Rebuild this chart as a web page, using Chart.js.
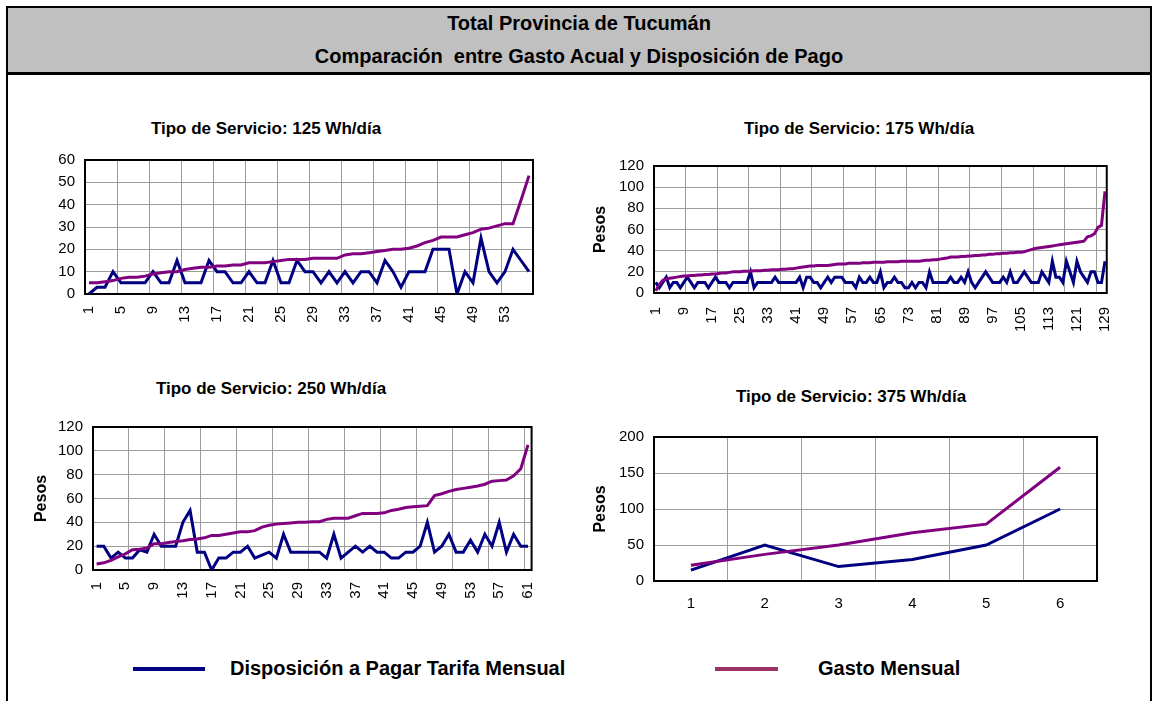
<!DOCTYPE html>
<html>
<head>
<meta charset="utf-8">
<title>Total Provincia de Tucumán</title>
<script src="https://cdn.jsdelivr.net/npm/chart.js@4.4.0/dist/chart.umd.min.js"></script>
<style>
  body { margin: 0; background: #fff; font-family: "Liberation Sans", Arial, sans-serif; }
  #page { position: relative; width: 1157px; height: 701px; overflow: hidden; background: #fff; }
  .frame { position: absolute; left: 6px; top: 6px; width: 1142px; height: 720px; border: 2px solid #000; }
  .header { position: absolute; left: 8px; top: 8px; width: 1142px; height: 64px; background: #c0c0c0; border-bottom: 3px solid #000; }
  .htext { position: absolute; left: 0; width: 100%; text-align: center; font-weight: bold; font-size: 20px; color: #000; }
  .ctitle { position: absolute; width: 400px; text-align: center; font-weight: bold; font-size: 17px; color: #000; }
  canvas { position: absolute; }
  .lgline { position: absolute; height: 4px; }
  .lgtext { position: absolute; font-weight: bold; font-size: 20px; color: #000; }
</style>
</head>
<body>
<div id="page">
  <div class="frame"></div>
  <div class="header">
    <div class="htext" style="top:4px">Total Provincia de Tucumán</div>
    <div class="htext" style="top:37px">Comparación&nbsp; entre Gasto Acual y Disposición de Pago</div>
  </div>

  <div class="ctitle" style="left:66px; top:119px">Tipo de Servicio: 125 Wh/día</div>
  <div class="ctitle" style="left:659px; top:119px">Tipo de Servicio: 175 Wh/día</div>
  <div class="ctitle" style="left:71px; top:379px">Tipo de Servicio: 250 Wh/día</div>
  <div class="ctitle" style="left:651px; top:387px">Tipo de Servicio: 375 Wh/día</div>

  <canvas id="c125" width="519" height="199" style="left:40px; top:141px"></canvas>
  <canvas id="c175" width="552" height="193" style="left:585px; top:147px"></canvas>
  <canvas id="c250" width="528" height="202" style="left:30px; top:408px"></canvas>
  <canvas id="c375" width="530" height="202" style="left:585px; top:418px"></canvas>

  <div class="lgline" style="left:133px; top:667px; width:72px; background:#000080"></div>
  <div class="lgtext" style="left:230px; top:657px">Disposición a Pagar Tarifa Mensual</div>
  <div class="lgline" style="left:715px; top:667px; width:63px; background:#993366"></div>
  <div class="lgtext" style="left:818px; top:657px">Gasto Mensual</div>
</div>

<script>
// series names
var nameDisp = 'Disposición a Pagar Tarifa Mensual';
var nameGasto = 'Gasto Mensual';

// 125 Wh/dia
var disp125 = [0,3,3,10,5,5,5,5,10,5, 5,15,5,5,5,15,10,10,5,5, 10,5,5,15,5,5,15,10,10,5,
               10,5,10,5,10,10,5,15,10,3, 10,10,10,20,20,20,0,10,5,25, 10,5,10,20,15,10];
var gasto125 = [5,5,5.5,6,7,7.5,7.5,8,9,9.5, 10,10,11,11.5,12,12,12.5,12.5,13,13,
                14,14,14,14.5,15,15.5,15.5,15.5,16,16, 16,16,17.5,18,18,18.5,19,19.5,20,20,
                20.5,21.5,23,24,25.5,25.5,25.5,26.5,27.5,29, 29.5,30.5,31.5,31.5,42,53];

// 175 Wh/dia
var disp175 = [10,5,10,15,5,10,10,5,10,15, 10,5,10,10,10,5,10,15,10,10,
               10,5,10,10,10,10,10,20,5,10, 10,10,10,10,15,10,10,10,10,10,
               10,15,5,15,15,10,10,5,10,15, 10,15,15,15,10,10,10,5,15,10,
               10,15,10,10,20,5,10,10,15,10, 10,5,5,10,5,10,10,5,20,10,
               10,10,10,10,15,10,10,15,10,20, 10,5,10,15,20,15,10,10,10,15,
               10,20,10,10,15,20,15,10,10,10, 20,15,10,30,15,15,10,30,20,10,
               30,20,15,10,20,20,10,10,30];
var gasto175 = [2,8,12,13,14,14.5,15,15.5,16,16, 16.5,16.5,17,17,17.5,17.5,18,18,18.5,19,
                19,19.5,20,20,20,20.5,20.5,20.5,21,21, 21,21.5,21.5,22,22,22,22.5,22.5,23,23,
                23.5,24,24.5,25,25.5,25.5,26,26,26,26, 26.5,27,27.5,27.5,27.5,28,28,28,28,28.5,
                28.5,28.5,29,29,29,29,29.5,29.5,29.5,29.5, 30,30,30,30,30,30,30.5,31,31,31.5,
                31.5,32,32.5,33,34,34,34,34.5,34.5,35, 35,35.5,35.5,36,36,36.5,36.5,37,37,37.5,
                37.5,38,38,38.5,38.5,39,40,41,42,42.5, 43,43.5,44,44.5,45,45.5,46,46.5,47,47.5,
                48,48.5,49,53,54,56,62,64,96];

// 250 Wh/dia
var disp250 = [20,20,10,15,10,10,17,15,30,20, 20,20,40,50,15,15,0,10,10,15,
               15,20,10,12.5,15,10,30,15,15,15, 15,15,10,30,10,15,20,15,20,15,
               15,10,10,15,15,20,40,15,20,30, 15,15,25,15,30,20,40,15,30,20, 20];
var gasto250 = [5,6,8,11,13.5,17,17.5,18.5,22,22, 23,24,24.5,25.5,26,27,29,29,30,31,
                32,32,33,36,37.5,38.5,39,39.5,40,40, 40.5,40.5,42.5,43.5,43.5,43.5,45.5,47.5,47.5,47.5,
                48,50,51,52.5,53,53.5,54,62.5,64,66, 67.5,68.5,69.5,70.5,72,74.5,75,75.5,79,85, 105];

// 375 Wh/dia
var disp375 = [15,50,20,30,50,100];
var gasto375 = [22,37,50,67,79,158];

var colorDisp = '#000080';
var colorGasto = '#800080';
var gridColor = '#9c9c9c';

function numLabels(series){
    return series.map(function(v, i){ return String(i + 1); });
}

// black frame around the plot area, like the spreadsheet chart
var plotBorder = {
    id: 'plotBorder',
    beforeDatasetsDraw: function(chart){
        var a = chart.chartArea, ctx = chart.ctx;
        ctx.save();
        ctx.strokeStyle = '#000';
        ctx.lineWidth = 2;
        ctx.strokeRect(a.left, a.top, a.right - a.left, a.bottom - a.top);
        ctx.restore();
    }
};

function makeChart(id, disp, gasto, cfg){
    var labels = numLabels(gasto);
    var ctx = document.getElementById(id).getContext('2d');
    return new Chart(ctx, {
        type: 'line',
        data: {
            labels: labels,
            datasets: [
                { label: nameGasto, data: gasto, borderColor: colorGasto, borderWidth: 3, pointRadius: 0, tension: 0, fill: false },
                { label: nameDisp, data: disp, borderColor: colorDisp, borderWidth: 3, pointRadius: 0, tension: 0, fill: false }
            ]
        },
        options: {
            responsive: false,
            animation: false,
            devicePixelRatio: 1,
            layout: { padding: { top: 0, right: cfg.padRight, left: 0, bottom: 0 } },
            plugins: { legend: { display: false }, tooltip: { enabled: false }, title: { display: false } },
            scales: {
                x: {
                    offset: true,
                    border: { display: false },
                    grid: {
                        offset: true,
                        drawTicks: false,
                        lineWidth: 1,
                        color: function(c){
                            if (c.index === undefined || c.index === 0) return 'transparent';
                            return (c.index % cfg.gridStep === 0) ? gridColor : 'transparent';
                        }
                    },
                    ticks: {
                        autoSkip: false,
                        minRotation: cfg.rotate ? 90 : 0,
                        maxRotation: cfg.rotate ? 90 : 0,
                        padding: cfg.xPad,
                        color: '#000',
                        font: { family: '"Liberation Sans", Arial, sans-serif', size: 15 },
                        callback: function(v, i){
                            return (i % cfg.tickStep === 0) ? this.getLabelForValue(v) : '';
                        }
                    },
                    afterFit: function(s){ s.height = cfg.xHeight; }
                },
                y: {
                    min: 0,
                    max: cfg.max,
                    border: { display: false },
                    grid: { color: gridColor, lineWidth: 1, drawTicks: false },
                    ticks: {
                        stepSize: cfg.step,
                        autoSkip: false,
                        padding: 10,
                        color: '#000',
                        font: { family: '"Liberation Sans", Arial, sans-serif', size: 15 }
                    },
                    title: {
                        display: cfg.pesos,
                        text: 'Pesos',
                        color: '#000',
                        padding: { top: cfg.titlePad, bottom: 0 },
                        font: { family: '"Liberation Sans", Arial, sans-serif', size: 16, weight: 'bold' }
                    },
                    afterFit: function(s){ s.width = cfg.yWidth; }
                }
            }
        },
        plugins: [plotBorder]
    });
}

makeChart('c125', disp125, gasto125, { max: 60, step: 10, tickStep: 4, gridStep: 4, rotate: true, xPad: 12,
    yWidth: 45, xHeight: 46, padRight: 0, pesos: false, titlePad: 0 });
makeChart('c175', disp175, gasto175, { max: 120, step: 20, tickStep: 8, gridStep: 9, rotate: true, xPad: 14,
    yWidth: 69, xHeight: 47, padRight: 0, pesos: true, titlePad: 6 });
makeChart('c250', disp250, gasto250, { max: 120, step: 20, tickStep: 4, gridStep: 5, rotate: true, xPad: 12,
    yWidth: 63, xHeight: 40, padRight: 0, pesos: true, titlePad: 2 });
makeChart('c375', disp375, gasto375, { max: 200, step: 50, tickStep: 1, gridStep: 1, rotate: false, xPad: 14,
    yWidth: 69, xHeight: 39, padRight: 18, pesos: true, titlePad: 6 });
</script>
</body>
</html>
